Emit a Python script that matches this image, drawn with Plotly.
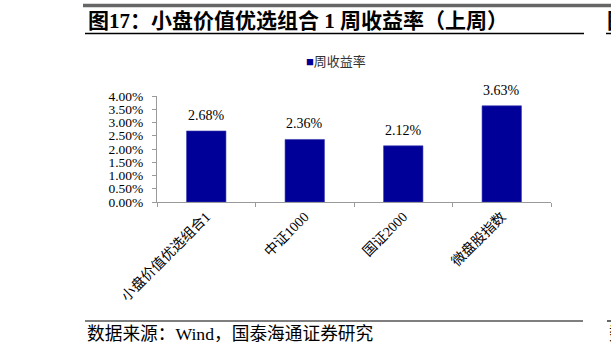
import plotly.graph_objects as go

categories = ["小盘价值优选组合1", "中证1000", "国证2000", "微盘股指数"]
values = [2.68, 2.36, 2.12, 3.63]
value_labels = ["2.68%", "2.36%", "2.12%", "3.63%"]
y_ticks = [0, 0.5, 1, 1.5, 2, 2.5, 3, 3.5, 4]
y_tick_labels = ["0.00%", "0.50%", "1.00%", "1.50%", "2.00%", "2.50%", "3.00%", "3.50%", "4.00%"]

W, H = 611, 353
def px(x):
    return x / W
def py(y):
    return 1 - y / H

SERIF = "Liberation Serif, Times New Roman, Noto Sans CJK SC, serif"
BAR = "#000099"
AX = "#9a9a9a"

fig = go.Figure()
fig.add_trace(go.Bar(
    x=categories, y=values, marker=dict(color=BAR, line=dict(width=0.6, color="#3a3ab0")),
    width=0.4, showlegend=False, hoverinfo="skip"))

for c, v, t in zip(categories, values, value_labels):
    fig.add_annotation(x=c, y=v, xref="x", yref="y", text=t, showarrow=False,
                       yanchor="bottom", yshift=6,
                       font=dict(family=SERIF, size=14, color="#000000"))

shapes = [
    dict(type="line", xref="paper", yref="paper", x0=px(83), x1=px(611), y0=py(5.5), y1=py(5.5),
         line=dict(color="#666666", width=3.5)),
    dict(type="line", xref="paper", yref="paper", x0=px(85), x1=px(584), y0=py(33.5), y1=py(33.5),
         line=dict(color="#000000", width=1.5)),
    dict(type="line", xref="paper", yref="paper", x0=px(606), x1=px(611), y0=py(33.5), y1=py(33.5),
         line=dict(color="#000000", width=1.5)),
    dict(type="line", xref="paper", yref="paper", x0=px(85), x1=px(583), y0=py(321), y1=py(321),
         line=dict(color="#000000", width=1.2)),
    dict(type="line", xref="paper", yref="paper", x0=px(607), x1=px(611), y0=py(321), y1=py(321),
         line=dict(color="#000000", width=1.2)),
]

annos = [
    dict(x=px(86), y=py(21), xref="paper", yref="paper", xanchor="left", yanchor="middle",
         text="<b>图17：小盘价值优选组合 1 周收益率（上周）</b>", showarrow=False,
         font=dict(family=SERIF, size=21, color="#000000")),
    dict(x=px(605), y=py(21), xref="paper", yref="paper", xanchor="left", yanchor="middle",
         text="<b>图</b>", showarrow=False, font=dict(family=SERIF, size=21, color="#000000")),
    dict(x=px(304), y=py(61), xref="paper", yref="paper", xanchor="left", yanchor="middle",
         text="<span style='color:#000099'>■</span>周收益率", showarrow=False,
         font=dict(family=SERIF, size=13, color="#333333")),
    dict(x=px(85), y=py(334), xref="paper", yref="paper", xanchor="left", yanchor="middle",
         text="数据来源：Wind，国泰海通证券研究", showarrow=False,
         font=dict(family=SERIF, size=17.7, color="#000000")),
    dict(x=px(607), y=py(334), xref="paper", yref="paper", xanchor="left", yanchor="middle",
         text="数", showarrow=False, font=dict(family=SERIF, size=17.7, color="#000000")),
]

fig.update_layout(
    template="none",
    width=W, height=H,
    margin=dict(l=0, r=0, t=0, b=0),
    paper_bgcolor="white", plot_bgcolor="white",
    showlegend=False,
    shapes=shapes,
    annotations=list(fig.layout.annotations) + annos,
    bargap=0.6,
    xaxis=dict(domain=[px(157), px(551)], showline=True, linecolor=AX, linewidth=1,
               ticks="outside", ticklen=4, tickcolor=AX, tickson="boundaries",
               tickangle=-45, showgrid=False, zeroline=False, automargin=False,
               tickfont=dict(family=SERIF, size=14, color="#000000")),
    yaxis=dict(domain=[py(202), py(96)], range=[0, 4], tickmode="array",
               tickvals=y_ticks, ticktext=y_tick_labels,
               showline=True, linecolor=AX, linewidth=1,
               ticks="outside", ticklen=4, tickcolor=AX, showgrid=False, zeroline=False,
               automargin=False, ticklabelstandoff=6,
               tickfont=dict(family=SERIF, size=13.5, color="#000000")),
)

fig.write_html("out.html")
